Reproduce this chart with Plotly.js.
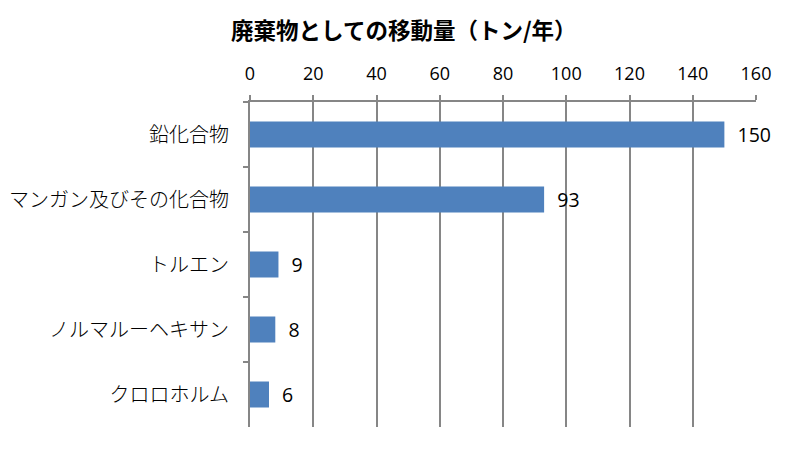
<!DOCTYPE html>
<html><head><meta charset="utf-8">
<script src="https://cdn.plot.ly/plotly-3.0.1.min.js"></script>
<style>body{margin:0;background:#fff}#c{width:795px;height:450px}</style>
</head><body><div id="c"></div>
<script>
const categories = ["鉛化合物", "マンガン及びその化合物", "トルエン", "ノルマルーヘキサン", "クロロホルム"];
const values = [150, 93, 9, 8, 6];
const tickVals = [0, 20, 40, 60, 80, 100, 120, 140, 160];

const trace = {
  type: "bar", orientation: "h",
  y: categories, x: values,
  texttemplate: "\u00a0\u00a0%{x}", textposition: "outside", cliponaxis: false,
  textfont: {family: "Open Sans, Liberation Sans, sans-serif", size: 21, color: "#000"},
  marker: {color: "#4F81BD"},
  hoverinfo: "x+y"
};
const layout = {
  width: 795, height: 450,
  margin: {l: 250, r: 39, t: 102, b: 23},
  paper_bgcolor: "#fff", plot_bgcolor: "#fff",
  bargap: 0.6,
  showlegend: false,
  title: {text: "<b>廃棄物としての移動量（トン/年）</b>", x: 0.508, xanchor: "center", y: 0.93, yanchor: "middle",
          font: {family: "Noto Sans CJK JP, sans-serif", size: 22.5, color: "#000"}},
  xaxis: {
    side: "top", range: [0, 160], tickvals: tickVals, ticktext: tickVals.map(String),
    showgrid: true, gridcolor: "#868686", gridwidth: 2,
    showline: true, linecolor: "#868686", linewidth: 2,
    ticks: "outside", ticklen: 5, tickcolor: "#868686", tickwidth: 2,
    ticklabelstandoff: 8,
    zeroline: false, fixedrange: true,
    tickfont: {family: "Open Sans, Liberation Sans, sans-serif", size: 18, color: "#000"}
  },
  yaxis: {
    type: "category", autorange: "reversed",
    showline: true, linecolor: "#868686", linewidth: 2,
    ticks: "outside", ticklen: 5, tickcolor: "#868686", tickwidth: 2,
    tickson: "boundaries", showgrid: false, fixedrange: true,
    ticklabelstandoff: 15,
    tickfont: {family: "Noto Sans CJK JP, sans-serif", size: 20, color: "#000", weight: 300}
  }
};
Plotly.newPlot("c", [trace], layout, {displayModeBar: false, staticPlot: true});
</script></body></html>
